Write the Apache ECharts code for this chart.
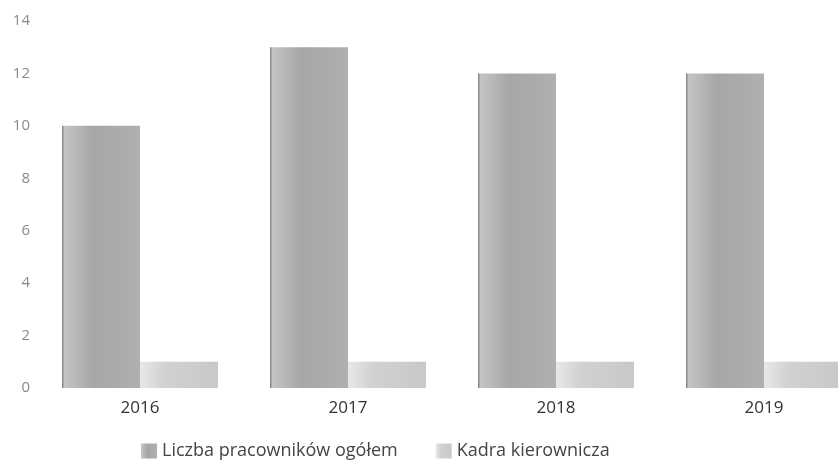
<!DOCTYPE html>
<html>
<head>
<meta charset="utf-8">
<script src="https://cdn.jsdelivr.net/npm/echarts@6/dist/echarts.min.js"></script>
<style>html,body{margin:0;padding:0;background:#fff}#c{width:838px;height:461px}</style>
</head>
<body>
<div id="c"></div>
<script>
const categories = ['2016', '2017', '2018', '2019'];
const seriesNames = ['Liczba pracowników ogółem', 'Kadra kierownicza'];
const totalEmployees = [10, 13, 12, 12];
const management = [1, 1, 1, 1];
const yTicks = { min: 0, max: 14, interval: 2 };

const chart = echarts.init(document.getElementById('c'));
chart.setOption({
  animation: false,
  backgroundColor: '#fff',
  textStyle: { fontFamily: 'Open Sans' },
  grid: { left: 36, top: 21, width: 832, height: 367, outerBoundsMode: 'none', containLabel: false },
  legend: {
    top: 437,
    left: 136,
    itemWidth: 16, itemHeight: 15, itemGap: 38,
    icon: 'rect',
    textStyle: { fontSize: 18, color: '#444', fontFamily: 'Open Sans' },
    data: seriesNames
  },
  xAxis: {
    type: 'category',
    data: categories,
    axisLine: { show: false },
    axisTick: { show: false },
    axisLabel: { fontSize: 17, color: '#333', margin: 12 }
  },
  yAxis: {
    type: 'value',
    min: yTicks.min, max: yTicks.max, interval: yTicks.interval,
    splitLine: { show: false },
    axisLine: { show: false },
    axisTick: { show: false },
    axisLabel: { fontSize: 15, color: '#8a8a8a', margin: 6 }
  },
  series: [
    {
      name: seriesNames[0], type: 'bar', data: totalEmployees,
      barGap: '0%', barCategoryGap: '25%',
      itemStyle: {
        color: new echarts.graphic.LinearGradient(0, 0, 1, 0, [
          { offset: 0, color: '#7a7a7a' },
          { offset: 0.03, color: '#c4c4c4' },
          { offset: 0.4, color: '#a6a6a6' },
          { offset: 1, color: '#b0b0b0' }
        ])
      }
    },
    {
      name: seriesNames[1], type: 'bar', data: management,
      itemStyle: {
        color: new echarts.graphic.LinearGradient(0, 0, 1, 0, [
          { offset: 0, color: '#e8e8e8' },
          { offset: 0.3, color: '#d2d2d2' },
          { offset: 1, color: '#c8c8c8' }
        ])
      }
    }
  ]
});
</script>
</body>
</html>
